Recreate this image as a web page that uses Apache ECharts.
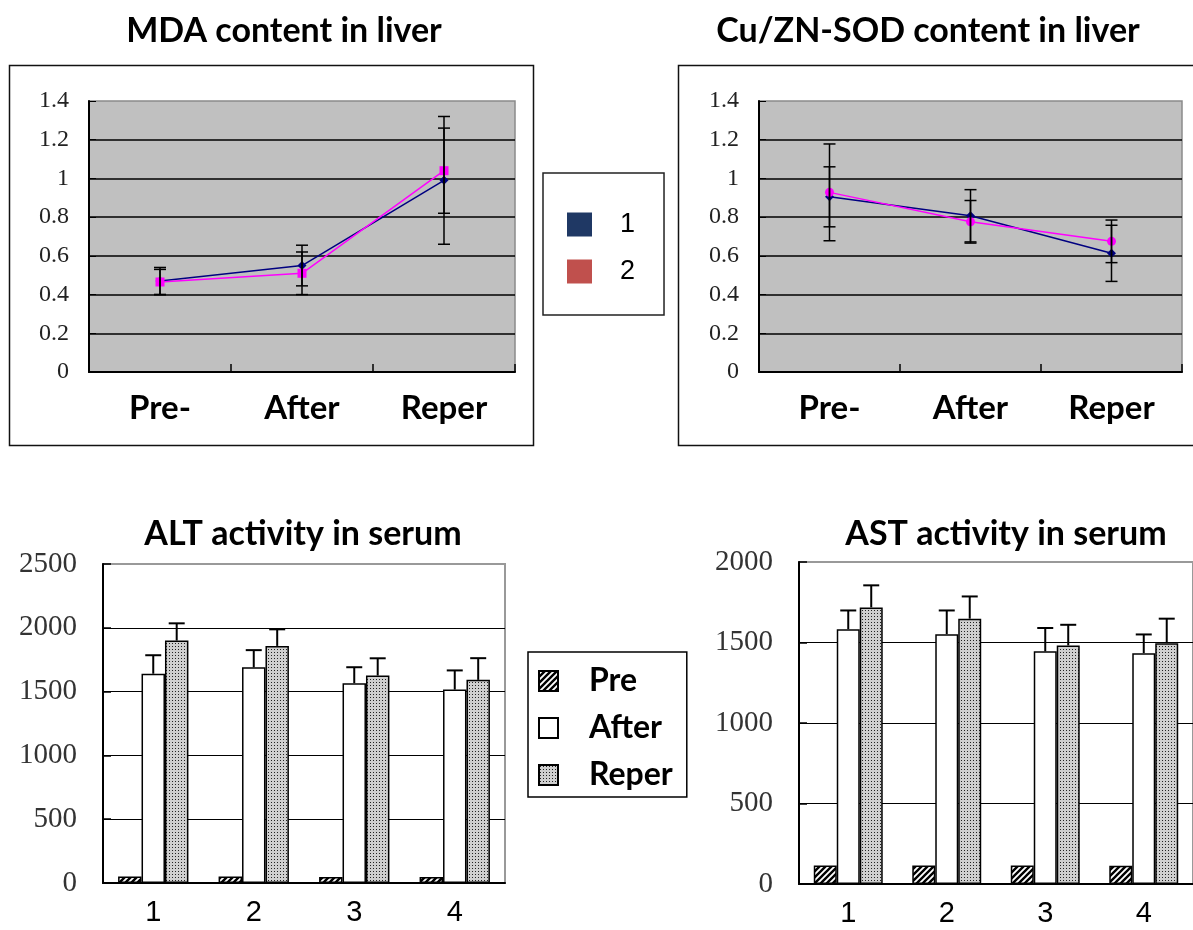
<!DOCTYPE html>
<html>
<head>
<meta charset="utf-8">
<script src="https://cdn.jsdelivr.net/npm/echarts@6/dist/echarts.min.js"></script>
<style>
  html, body { margin: 0; padding: 0; background: #fff; }
  #main { width: 1193px; height: 930px; }
</style>
</head>
<body>
<div id="main"></div>
<script>
// ---- data ----
var stages = ['Pre-', 'After', 'Reper'];
var groups = ['1', '2', '3', '4'];

// MDA content in liver
var mda1 = [0.47, 0.55, 0.99];
var mda1Err = [0.07, 0.105, 0.33];
var mda2 = [0.465, 0.51, 1.04];
var mda2Err = [0.065, 0.11, 0.22];

// Cu/ZN-SOD content in liver
var sod1 = [0.905, 0.807, 0.613];
var sod1Err = [0.155, 0.135, 0.145];
var sod2 = [0.928, 0.776, 0.675];
var sod2Err = [0.25, 0.11, 0.11];

// ALT activity in serum
var altPre = [50, 50, 48, 48];
var altAfter = [1640, 1690, 1566, 1516];
var altAfterErr = [145, 135, 125, 150];
var altReper = [1900, 1858, 1626, 1592];
var altReperErr = [135, 130, 135, 170];

// AST activity in serum
var astPre = [115, 115, 115, 113];
var astAfter = [1583, 1552, 1445, 1434];
var astAfterErr = [116, 147, 145, 116];
var astReper = [1718, 1648, 1482, 1496];
var astReperErr = [137, 138, 128, 152];

// ---- fill patterns ----
function hatchPattern() {
  var c = document.createElement('canvas');
  c.width = 6; c.height = 6;
  var g = c.getContext('2d');
  g.fillStyle = '#fff';
  g.fillRect(0, 0, 6, 6);
  g.strokeStyle = '#000';
  g.lineWidth = 2.4;
  g.beginPath();
  g.moveTo(-1, 7); g.lineTo(7, -1);
  g.moveTo(-4, 4); g.lineTo(4, -4);
  g.moveTo(2, 10); g.lineTo(10, 2);
  g.stroke();
  return { image: c, repeat: 'repeat' };
}
function dotPattern() {
  var c = document.createElement('canvas');
  c.width = 3; c.height = 3;
  var g = c.getContext('2d');
  g.fillStyle = '#cfcfcf';
  g.fillRect(0, 0, 3, 3);
  g.fillStyle = '#222';
  g.fillRect(1, 1, 1, 1);
  return { image: c, repeat: 'repeat' };
}

function errData(mean, err) {
  var out = [];
  for (var i = 0; i < mean.length; i++) out.push([i, mean[i], err[i]]);
  return out;
}

// error bar drawer; slot = offset in bar widths, upOnly for bar charts
function errRender(slot, capW, upOnly) {
  return function (params, api) {
    var x = api.value(0), m = api.value(1), e = api.value(2);
    var bw = api.size([1, 0])[0] * 0.7 / 3;
    var hi = api.coord([x, m + e]);
    var lo = api.coord([x, upOnly ? m : m - e]);
    var cx = hi[0] + slot * bw;
    var st = { stroke: '#000', lineWidth: upOnly ? 2 : 1.5 };
    var kids = [
      { type: 'line', shape: { x1: cx, y1: hi[1], x2: cx, y2: lo[1] }, style: st },
      { type: 'line', shape: { x1: cx - capW / 2, y1: hi[1], x2: cx + capW / 2, y2: hi[1] }, style: st }
    ];
    if (!upOnly) {
      kids.push({ type: 'line', shape: { x1: cx - capW / 2, y1: lo[1], x2: cx + capW / 2, y2: lo[1] }, style: st });
    }
    return { type: 'group', children: kids };
  };
}

function errSeries(name, idx, mean, err, slot, capW, upOnly) {
  return {
    name: name,
    type: 'custom',
    xAxisIndex: idx,
    yAxisIndex: idx,
    z: 5,
    silent: true,
    renderItem: errRender(slot, capW, upOnly),
    encode: { x: 0, y: 1 },
    data: errData(mean, err)
  };
}

var titleFont = { fontFamily: 'Lato', fontWeight: 'bold', fontSize: 34, color: '#000' };
var plain = function (v) { return String(v); };

function topX(idx) {
  return {
    type: 'category', gridIndex: idx, data: stages,
    axisLine: { lineStyle: { color: '#000', width: 2 } },
    axisTick: { show: true, inside: true, length: 8, lineStyle: { color: '#000', width: 1.5 } },
    axisLabel: { fontFamily: 'Lato', fontWeight: 'bold', fontSize: 33, color: '#000', margin: 20 }
  };
}
function topY(idx) {
  return {
    type: 'value', gridIndex: idx, min: 0, max: 1.4, interval: 0.2,
    axisLine: { show: true, lineStyle: { color: '#000', width: 2 } },
    axisTick: { show: true, inside: true, length: 7, lineStyle: { color: '#000' } },
    axisLabel: { fontFamily: 'Liberation Serif', fontSize: 24, color: '#222', margin: 20, formatter: plain },
    splitLine: { show: true, showMaxLine: false, lineStyle: { color: '#000', width: 1.5 } }
  };
}
function botX(idx) {
  return {
    type: 'category', gridIndex: idx, data: groups,
    axisLine: { lineStyle: { color: '#000', width: 2 } },
    axisTick: { show: false },
    axisLabel: { fontFamily: 'Liberation Sans', fontSize: 29, color: '#000', margin: 15 }
  };
}
function botY(idx, max, step) {
  return {
    type: 'value', gridIndex: idx, min: 0, max: max, interval: step,
    axisLine: { show: true, lineStyle: { color: '#000', width: 2 } },
    axisTick: { show: true, inside: true, length: 8, lineStyle: { color: '#000', width: 1.5 } },
    axisLabel: { fontFamily: 'Liberation Serif', fontSize: 29, color: '#333', margin: 26, formatter: plain },
    splitLine: { show: true, showMaxLine: false, lineStyle: { color: '#000', width: 1.2 } }
  };
}

var hatch = hatchPattern();
var dots = dotPattern();

function barSeries(name, idx, values, fill) {
  return {
    name: name, type: 'bar', xAxisIndex: idx, yAxisIndex: idx,
    barGap: '0%', barCategoryGap: '30%',
    itemStyle: { color: fill, borderColor: '#000', borderWidth: 1.5 },
    emphasis: { disabled: true },
    data: values
  };
}

var myChart = echarts.init(document.getElementById('main'));

var option = {
  backgroundColor: '#fff',
  animation: false,
  title: [
    { text: 'MDA content in liver', left: 279, top: 9, textAlign: 'center', textStyle: titleFont },
    { text: 'Cu/ZN-SOD content in liver', left: 923, top: 9, textAlign: 'center', textStyle: titleFont },
    { text: 'ALT activity in serum', left: 298, top: 512, textAlign: 'center', textStyle: titleFont },
    { text: 'AST activity in serum', left: 1001, top: 512, textAlign: 'center', textStyle: titleFont }
  ],
  graphic: [
    { type: 'rect', shape: { x: 9.5, y: 65.5, width: 524, height: 380 }, style: { fill: null, stroke: '#111', lineWidth: 1.5 } },
    { type: 'rect', shape: { x: 678.5, y: 65.5, width: 540, height: 380 }, style: { fill: null, stroke: '#111', lineWidth: 1.5 } }
  ],
  legend: [
    {
      data: [
        { name: '1', itemStyle: { color: '#1F3864' } },
        { name: '2', itemStyle: { color: '#C0504D' } }
      ],
      orient: 'vertical', left: 543, top: 173,
      icon: 'rect', itemWidth: 25, itemHeight: 24, itemGap: 20,
      padding: [38, 29, 30, 24],
      borderColor: '#222', borderWidth: 1.5,
      selectedMode: false,
      textStyle: { fontFamily: 'Liberation Sans', fontSize: 27, color: '#000', lineHeight: 26, padding: [0, 0, 0, 23] }
    },
    {
      data: ['Pre', 'After', 'Reper'],
      orient: 'vertical', left: 528, top: 652,
      icon: 'rect', itemWidth: 19, itemHeight: 20, itemGap: 15,
      padding: [13, 14, 6, 10],
      borderColor: '#000', borderWidth: 1.5,
      selectedMode: false,
      textStyle: { fontFamily: 'Lato', fontWeight: 'bold', fontSize: 32, color: '#000', lineHeight: 30, padding: [0, 0, 0, 26] }
    }
  ],
  grid: [
    { left: 89, top: 101, width: 426, height: 271, show: true, backgroundColor: '#C0C0C0', borderColor: '#8a8a8a', borderWidth: 1.5 },
    { left: 759, top: 101, width: 423, height: 271, show: true, backgroundColor: '#C0C0C0', borderColor: '#8a8a8a', borderWidth: 1.5 },
    { left: 103, top: 564, width: 402, height: 319, show: true, backgroundColor: '#fff', borderColor: '#999', borderWidth: 2 },
    { left: 799, top: 562, width: 400, height: 322, show: true, backgroundColor: '#fff', borderColor: '#999', borderWidth: 2 }
  ],
  xAxis: [topX(0), topX(1), botX(2), botX(3)],
  yAxis: [topY(0), topY(1), botY(2, 2500, 500), botY(3, 2000, 500)],
  series: [
    // MDA
    { name: '1', type: 'line', xAxisIndex: 0, yAxisIndex: 0, data: mda1,
      symbol: 'diamond', symbolSize: 9, lineStyle: { color: '#000080', width: 1.5 }, itemStyle: { color: '#000080' } },
    { name: '2', type: 'line', xAxisIndex: 0, yAxisIndex: 0, data: mda2,
      symbol: 'rect', symbolSize: 9, lineStyle: { color: '#FF00FF', width: 1.5 }, itemStyle: { color: '#FF00FF' } },
    errSeries('mdaErr1', 0, mda1, mda1Err, 0, 12, false),
    errSeries('mdaErr2', 0, mda2, mda2Err, 0, 12, false),
    // Cu/ZN-SOD
    { name: '1', type: 'line', xAxisIndex: 1, yAxisIndex: 1, data: sod1,
      symbol: 'diamond', symbolSize: 9, lineStyle: { color: '#000080', width: 1.5 }, itemStyle: { color: '#000080' } },
    { name: '2', type: 'line', xAxisIndex: 1, yAxisIndex: 1, data: sod2,
      symbol: 'circle', symbolSize: 9, lineStyle: { color: '#FF00FF', width: 1.5 }, itemStyle: { color: '#FF00FF' } },
    errSeries('sodErr1', 1, sod1, sod1Err, 0, 12, false),
    errSeries('sodErr2', 1, sod2, sod2Err, 0, 12, false),
    // ALT
    barSeries('Pre', 2, altPre, hatch),
    barSeries('After', 2, altAfter, '#fff'),
    barSeries('Reper', 2, altReper, dots),
    errSeries('altErrA', 2, altAfter, altAfterErr, 0, 16, true),
    errSeries('altErrR', 2, altReper, altReperErr, 1, 16, true),
    // AST
    barSeries('Pre', 3, astPre, hatch),
    barSeries('After', 3, astAfter, '#fff'),
    barSeries('Reper', 3, astReper, dots),
    errSeries('astErrA', 3, astAfter, astAfterErr, 0, 16, true),
    errSeries('astErrR', 3, astReper, astReperErr, 1, 16, true)
  ]
};

myChart.setOption(option);
</script>
</body>
</html>
